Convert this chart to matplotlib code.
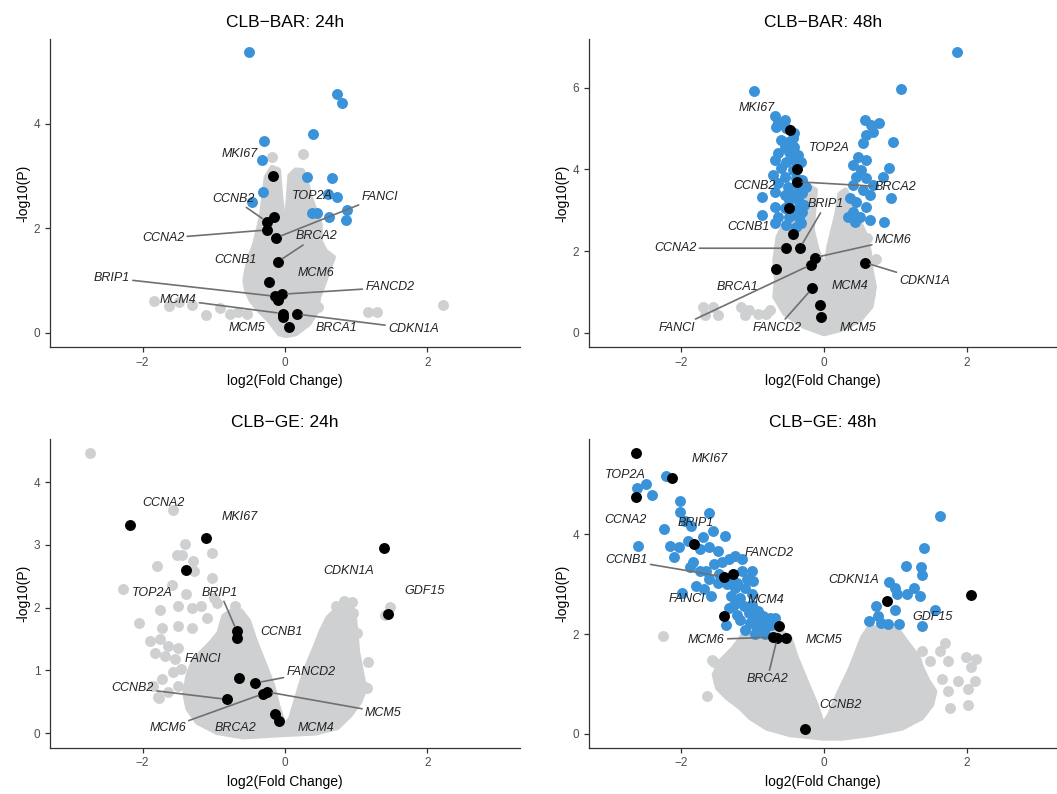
import matplotlib
matplotlib.use("Agg")
import matplotlib.pyplot as plt

plt.rcParams["font.family"] = ["Liberation Sans", "DejaVu Sans"]

GRAY = "#cfd0d1"
BLUE = "#3a92d9"
BLACK = "#000000"
SEG = "#707070"

# ------------------ CLB-BAR 24h ------------------
bar24_cloud_x = [0.012, -0.081, -0.219, -0.358, -0.473, -0.542, -0.565, -0.542, -0.496, -0.427, -0.381, -0.335, -0.302,
                 -0.265, -0.182, -0.090, -0.058, -0.025, 0.012, 0.026, 0.044, 0.067, 0.150, 0.243, 0.298, 0.358, 0.427,
                 0.496, 0.496, 0.566, 0.681, 0.612, 0.543, 0.473, 0.450, 0.335, 0.150]
bar24_cloud_y = [-0.055, -0.02, 0.23, 0.42, 0.61, 0.81, 1.00, 1.19, 1.45, 1.70, 1.96, 2.21, 2.59, 2.98, 3.17, 3.12, 2.59,
                 2.21, 1.76, 2.21, 2.59, 3.01, 3.12, 3.11, 2.91, 2.59, 2.34, 2.08, 1.76, 1.57, 1.45, 1.19, 0.93, 0.68,
                 0.42, 0.17, -0.02]
bar24_gray_x = [-0.187, 0.248, -1.836, -1.636, -1.495, -1.308, -1.112, -0.911, -0.771, -0.654, -0.537, 0.467, 1.168,
                1.285, 2.220, -0.514, 0.514, 0.397]
bar24_gray_y = [3.37, 3.42, 0.61, 0.51, 0.59, 0.53, 0.35, 0.47, 0.37, 0.40, 0.37, 0.49, 0.40, 0.40, 0.53, 1.07, 1.52, 0.82]
bar24_blue_x = [-0.50, 0.724, 0.794, 0.388, -0.294, -0.322, 0.313, 0.654, -0.313, 0.607, 0.724, -0.467, 0.874, 0.374,
                0.444, 0.621, 0.855]
bar24_blue_y = [5.37, 4.58, 4.41, 3.80, 3.67, 3.31, 2.99, 2.97, 2.70, 2.66, 2.61, 2.51, 2.36, 2.30, 2.30, 2.22, 2.16]
bar24_genes = ["MKI67", "TOP2A", "CCNB2", "CCNA2", "FANCI", "BRCA2", "CCNB1", "FANCD2", "BRIP1", "MCM6", "MCM4",
               "MCM5", "CDKN1A", "BRCA1"]
bar24_gene_x = [-0.173, -0.15, -0.257, -0.257, -0.126, -0.103, -0.22, -0.042, -0.136, -0.093, -0.033, -0.023, 0.164, 0.051]
bar24_gene_y = [3.01, 2.21, 2.13, 1.97, 1.82, 1.36, 0.98, 0.74, 0.70, 0.63, 0.37, 0.31, 0.36, 0.115]

# ------------------ CLB-BAR 48h ------------------
bar48_cloud_x = [0.0, -0.279, -0.553, -0.691, -0.668, -0.691, -0.645, -0.553, -0.416, -0.30, -0.22, -0.12, -0.164,
                 -0.095, 0.02, 0.065, 0.134, 0.18, 0.22, 0.30, 0.40, 0.50, 0.592, 0.638, 0.660, 0.706, 0.660, 0.500, 0.225]
bar48_cloud_y = [-0.03, 0.15, 0.47, 0.88, 1.29, 1.78, 2.35, 2.68, 2.93, 3.3, 3.6, 3.5, 2.52, 2.03, 1.54, 2.11, 2.60,
                 2.93, 3.40, 3.50, 3.20, 2.70, 2.35, 1.95, 1.54, 1.13, 0.64, 0.31, 0.07]
bar48_gray_x = [-1.692, -1.552, -1.669, -1.48, -1.156, -1.110, -1.057, -0.923, -0.807, -0.76, -0.597, -0.480, -0.410,
                -0.597, 0.606, 0.732, 0.592, 0.639, 0.522, 0.476]
bar48_gray_y = [0.64, 0.64, 0.43, 0.43, 0.64, 0.43, 0.56, 0.47, 0.47, 0.56, 0.80, 0.76, 1.05, 1.21, 2.31, 1.80, 1.37,
                0.96, 0.72, 0.47]
bar48_blue_x = [1.865, 1.075, -0.979,
                -0.691, -0.645, -0.553, -0.668, -0.531, -0.416, -0.599, -0.508, -0.439, -0.553, -0.416, -0.645, -0.485,
                -0.370, -0.691, -0.531, -0.416, -0.324, -0.599, -0.439, -0.714, -0.553, -0.393, -0.302, -0.645, -0.508,
                -0.370, -0.256, -0.691, -0.553, -0.416, -0.302, -0.874, -0.485, -0.347, -0.279, -0.691, -0.553, -0.416,
                -0.302, -0.874, -0.645, -0.485, -0.347, -0.691, -0.531, -0.393, -0.324,
                0.569, 0.660, 0.775, 0.683, 0.592, 0.546, 0.958, 0.477, 0.592, 0.409, 0.523, 0.454, 0.592, 0.683, 0.821,
                0.912, 0.409, 0.546, 0.638, 0.935, 0.363, 0.454, 0.592, 0.409, 0.340, 0.500, 0.638, 0.844, 0.431]
bar48_blue_y = [6.87, 5.97, 5.92,
                5.30, 5.17, 5.21, 5.05, 5.01, 4.89, 4.72, 4.68, 4.76, 4.56, 4.56, 4.40, 4.44, 4.36, 4.23, 4.19, 4.23,
                4.19, 4.03, 3.99, 3.87, 3.82, 3.78, 3.74, 3.66, 3.58, 3.58, 3.58, 3.46, 3.37, 3.37, 3.42, 3.33, 3.25,
                3.21, 3.13, 3.09, 3.05, 3.01, 2.97, 2.88, 2.84, 2.84, 2.80, 2.68, 2.64, 2.60, 2.68,
                5.21, 5.09, 5.15, 4.93, 4.84, 4.64, 4.68, 4.31, 4.23, 4.11, 3.99, 3.82, 3.78, 3.62, 3.82, 4.03, 3.62,
                3.50, 3.37, 3.29, 3.29, 3.21, 3.09, 2.97, 2.84, 2.84, 2.76, 2.72, 2.72]
bar48_genes = ["MKI67", "TOP2A", "BRCA2", "CCNB2", "CCNB1", "CCNA2", "BRIP1", "MCM6", "FANCI", "BRCA1", "CDKN1A",
               "FANCD2", "MCM4", "MCM5"]
bar48_gene_x = [-0.471, -0.373, -0.382, -0.49, -0.43, -0.527, -0.34, -0.13, -0.177, -0.667, 0.569, -0.163, -0.056, -0.047]
bar48_gene_y = [4.97, 4.00, 3.70, 3.05, 2.41, 2.07, 2.07, 1.84, 1.67, 1.55, 1.72, 1.09, 0.68, 0.39]

# ------------------ CLB-GE 24h ------------------
ge24_cloud_x = [0.011, -0.585, -0.952, -1.227, -1.365, -1.411, -1.365, -1.296, -1.182, -1.044, -0.929, -0.860, -0.723,
                -0.62, -0.510, -0.420, -0.329, -0.238, -0.171, -0.103, -0.044, -0.012, 0.079, 0.147, 0.215, 0.305, 0.419,
                0.509, 0.600, 0.690, 0.80, 0.93, 0.97, 1.00, 1.02, 1.08, 1.121, 1.053, 0.917, 0.736, 0.419]
ge24_cloud_y = [-0.02, -0.06, 0.01, 0.17, 0.39, 0.65, 0.91, 1.13, 1.28, 1.44, 1.60, 1.87, 1.97, 1.95, 1.79, 1.48, 1.22,
                0.96, 0.76, 0.45, 0.24, 0.11, 0.24, 0.50, 0.76, 1.06, 1.37, 1.63, 1.84, 1.94, 2.02, 2.05, 1.90, 1.60,
                1.30, 0.95, 0.70, 0.50, 0.29, 0.09, 0.0]
ge24_gray_x = [-2.734, -1.575, -1.411, -1.52, -1.44, -1.296, -1.021, -1.80, -1.273, -1.021, -2.28, -1.39, -1.58, -1.0,
               -1.50, -1.30, -1.18, -2.05, -1.73, -1.50, -1.30, -1.09, -0.54, -1.75, -1.893, -1.755, -1.640, -1.503,
               -1.824, -1.686, -1.549, -1.732, -1.778, -1.640, -1.503, -1.572, -1.457, -1.847, -1.776, -0.96, -0.70,
               1.168, 1.121, 1.15, 1.481, 1.40, 1.014, 0.715, 0.935, 0.958, 0.911, 0.83, 0.72]
ge24_gray_y = [4.46, 3.55, 3.01, 2.84, 2.84, 2.74, 2.87, 2.67, 2.58, 2.47, 2.29, 2.21, 2.36, 2.16, 2.02, 1.99, 2.02,
               1.76, 1.68, 1.71, 1.68, 1.84, 1.55, 1.97, 1.47, 1.50, 1.39, 1.36, 1.28, 1.23, 1.18, 0.86, 0.57, 0.65,
               0.76, 0.97, 1.02, 0.76, 0.56, 2.08, 2.02, 1.14, 0.74, 0.72, 2.01, 1.88, 1.60, 2.02, 2.09, 1.91, 1.82,
               2.10, 1.75]
ge24_blue_x = []
ge24_blue_y = []
ge24_genes = ["CCNA2", "MKI67", "TOP2A", "CDKN1A", "GDF15", "BRIP1", "CCNB1", "FANCI", "FANCD2", "CCNB2", "MCM6",
              "MCM5", "BRCA2", "MCM4"]
ge24_gene_x = [-2.182, -1.107, -1.393, 1.393, 1.449, -0.678, -0.678, -0.650, -0.416, -0.818, -0.304, -0.257, -0.140, -0.089]
ge24_gene_y = [3.32, 3.11, 2.60, 2.95, 1.90, 1.63, 1.52, 0.88, 0.80, 0.54, 0.63, 0.66, 0.31, 0.20]

# ------------------ CLB-GE 48h ------------------
ge48_cloud_x = [-0.016, -0.478, -0.801, -1.032, -1.170, -1.355, -1.493, -1.539, -1.447, -1.262, -1.124, -0.939, -0.755,
                -0.616, -0.478, -0.386, -0.247, -0.109, -0.016, 0.076, 0.214, 0.353, 0.445, 0.537, 0.630, 0.907, 1.045,
                1.183, 1.322, 1.368, 1.460, 1.553, 1.507, 1.368, 1.091, 0.630, 0.261]
ge48_cloud_y = [-0.09, -0.02, 0.11, 0.32, 0.52, 0.72, 0.92, 1.19, 1.46, 1.73, 2.00, 2.13, 2.06, 2.06, 1.93, 1.53, 1.05,
                0.58, 0.18, 0.38, 0.85, 1.26, 1.59, 1.93, 2.13, 2.13, 2.06, 1.79, 1.53, 1.32, 1.05, 0.85, 0.58, 0.32,
                0.11, -0.02, -0.09]
ge48_gray_x = [-2.255, -1.562, -1.632, -1.537, -1.377, 1.691, 1.737, 1.622, 1.991, 2.129, 2.060, 2.106, 1.876, 2.014,
               1.737, 1.760, 2.014, 1.645, 1.483, 1.368, 1.252]
ge48_gray_y = [1.96, 1.49, 0.75, 1.45, 1.38, 1.83, 1.46, 1.66, 1.54, 1.51, 1.34, 1.05, 1.05, 0.89, 0.85, 0.52, 0.58,
               1.09, 1.46, 1.66, 1.56]
ge48_blue_x = [-2.620, -2.497, -2.405, -2.209, -2.017, -2.017, -1.948, -1.606, -2.246, -1.857, -1.560, -1.386, -2.597,
               -2.154, -2.026, -2.099, -1.903, -1.697, -1.743, -1.606, -1.491, -1.834, -1.743, -1.880, -1.651, -1.537,
               -1.423, -1.331, -1.240, -1.149, -1.469, -1.309, -1.149, -1.011, -1.606, -1.491, -1.354, -1.217, -1.080,
               -0.989, -1.994, -1.788, -1.583, -1.674, -1.240, -1.103, -1.172, -1.011, -1.309, -1.263, -1.126, -1.011,
               -0.920, -1.331, -1.217, -1.057, -0.966, -0.852, -1.377, -1.172, -1.034, -0.920, -0.806, -0.760, -0.943,
               -0.829, -0.737, -1.103, -0.966, -0.829, -0.692,
               1.626, 1.397, 1.146, 1.356, 1.374, 0.908, 0.999, 1.260, 1.022, 1.159, 1.342, 0.725, 0.999, 0.748, 0.634,
               0.794, 0.899, 1.054, 1.548, 1.365]
ge48_blue_y = [4.94, 5.02, 4.80, 5.18, 4.67, 4.45, 4.28, 4.43, 4.10, 4.18, 4.06, 3.96, 3.77, 3.77, 3.74, 3.54, 3.87,
               3.94, 3.71, 3.74, 3.67, 3.44, 3.27, 3.34, 3.27, 3.40, 3.44, 3.50, 3.57, 3.50, 3.20, 3.13, 3.27, 3.27,
               3.10, 3.03, 3.00, 3.03, 3.10, 3.07, 2.83, 2.96, 2.76, 2.90, 2.93, 2.93, 2.73, 2.80, 2.76, 2.59, 2.56,
               2.59, 2.46, 2.53, 2.39, 2.43, 2.32, 2.36, 2.19, 2.29, 2.22, 2.22, 2.26, 2.32, 2.12, 2.12, 2.19, 2.09,
               2.01, 2.01, 2.32,
               4.38, 3.72, 3.37, 3.34, 3.18, 3.05, 2.93, 2.93, 2.80, 2.80, 2.76, 2.57, 2.49, 2.37, 2.26, 2.22, 2.21,
               2.21, 2.48, 2.16]
ge48_genes = ["TOP2A", "MKI67", "CCNA2", "BRIP1", "CCNB1", "FANCD2", "FANCI", "MCM4", "MCM6", "BRCA2", "MCM5",
              "CDKN1A", "GDF15", "CCNB2"]
ge48_gene_x = [-2.634, -2.126, -2.625, -1.818, -1.403, -1.273, -1.403, -0.629, -0.713, -0.653, -0.536, 0.881, 2.051, -0.261]
ge48_gene_y = [5.64, 5.13, 4.75, 3.80, 3.15, 3.20, 2.36, 2.16, 1.94, 1.93, 1.93, 2.66, 2.79, 0.10]

# label placement (text centre, draw segment or not)
bar24_labels = {
    "MKI67": (-0.64, 3.42, False), "TOP2A": (0.39, 2.62, False), "CCNB2": (-0.72, 2.57, True),
    "CCNA2": (-1.71, 1.81, True), "FANCI": (1.33, 2.61, True), "BRCA2": (0.44, 1.85, True),
    "CCNB1": (-0.69, 1.39, False), "FANCD2": (1.47, 0.87, True), "BRIP1": (-2.43, 1.05, True),
    "MCM6": (0.43, 1.15, False), "MCM4": (-1.50, 0.63, True), "MCM5": (-0.54, 0.10, False),
    "CDKN1A": (1.80, 0.08, True), "BRCA1": (0.72, 0.10, False),
}
bar48_labels = {
    "MKI67": (-0.946, 5.50, False), "TOP2A": (0.079, 4.53, False), "BRCA2": (1.002, 3.56, True),
    "CCNB2": (-0.979, 3.59, False), "CCNB1": (-1.063, 2.58, False), "CCNA2": (-2.079, 2.07, True),
    "BRIP1": (0.023, 3.15, True), "MCM6": (0.965, 2.27, True), "FANCI": (-2.06, 0.12, True),
    "BRCA1": (-1.217, 1.11, False), "CDKN1A": (1.408, 1.27, True), "FANCD2": (-0.653, 0.12, True),
    "MCM4": (0.368, 1.14, False), "MCM5": (0.476, 0.12, False),
}
ge24_labels = {
    "CCNA2": (-1.706, 3.67, False), "MKI67": (-0.631, 3.45, False), "TOP2A": (-1.869, 2.24, False),
    "CDKN1A": (0.888, 2.58, False), "GDF15": (1.953, 2.26, False), "BRIP1": (-0.911, 2.24, True),
    "CCNB1": (-0.056, 1.61, False), "FANCI": (-1.159, 1.18, False), "FANCD2": (0.364, 0.97, True),
    "CCNB2": (-2.136, 0.72, True), "MCM6": (-1.650, 0.08, True), "MCM5": (1.379, 0.33, True),
    "BRCA2": (-0.692, 0.08, False), "MCM4": (0.435, 0.08, False),
}
ge48_labels = {
    "TOP2A": (-2.788, 5.19, False), "MKI67": (-1.599, 5.51, False), "CCNA2": (-2.779, 4.30, False),
    "BRIP1": (-1.800, 4.24, False), "CCNB1": (-2.765, 3.48, True), "FANCD2": (-0.774, 3.63, False),
    "FANCI": (-1.925, 2.70, False), "MCM4": (-0.807, 2.69, False), "MCM6": (-1.646, 1.89, True),
    "BRCA2": (-0.793, 1.10, True), "MCM5": (0.0, 1.89, False), "CDKN1A": (0.415, 3.09, False),
    "GDF15": (1.524, 2.34, False), "CCNB2": (0.228, 0.57, False),
}

DOT = 62


def volcano(ax, title, cloud_x, cloud_y, gray_x, gray_y, blue_x, blue_y, genes, gene_x, gene_y, labels, xlim, ylim, yticks):
    # dense cloud of non-significant genes, then single points on top
    ax.fill(cloud_x, cloud_y, facecolor=GRAY, edgecolor=GRAY, lw=3.5, joinstyle="round", zorder=1)
    ax.scatter(gray_x, gray_y, s=DOT, color=GRAY, linewidths=0, zorder=2)
    if blue_x:
        ax.scatter(blue_x, blue_y, s=DOT, color=BLUE, linewidths=0, zorder=3)
    ax.scatter(gene_x, gene_y, s=DOT, color=BLACK, linewidths=0, zorder=4)
    for g, gx, gy in zip(genes, gene_x, gene_y):
        lx, ly, seg = labels[g]
        if seg:
            ax.annotate(g, xy=(gx, gy), xytext=(lx, ly), ha="center", va="center",
                        fontsize=9, fontstyle="italic", color="#222222", zorder=6,
                        arrowprops=dict(arrowstyle="-", color=SEG, lw=1.2, shrinkA=0, shrinkB=4))
        else:
            ax.text(lx, ly, g, ha="center", va="center", fontsize=9, fontstyle="italic",
                    color="#222222", zorder=6)
    ax.set_xlim(*xlim)
    ax.set_ylim(*ylim)
    ax.set_xticks([-2, 0, 2])
    ax.set_yticks(yticks)
    ax.set_title(title, fontsize=12.5, pad=9)
    ax.set_xlabel("log2(Fold Change)", fontsize=10)
    ax.set_ylabel("-log10(P)", fontsize=10, labelpad=2)
    for side in ["top", "right"]:
        ax.spines[side].set_visible(False)
    for side in ["left", "bottom"]:
        ax.spines[side].set_color("#333333")
        ax.spines[side].set_linewidth(0.9)
    ax.tick_params(labelsize=8.5, labelcolor="#4d4d4d", color="#333333", length=3.5, width=0.9)


fig = plt.figure(figsize=(10.57, 7.94), dpi=100)
ax1 = fig.add_axes([0.0473, 0.5630, 0.4447, 0.3875])
ax2 = fig.add_axes([0.5572, 0.5630, 0.4428, 0.3875])
ax3 = fig.add_axes([0.0473, 0.0583, 0.4447, 0.3884])
ax4 = fig.add_axes([0.5572, 0.0583, 0.4428, 0.3884])

volcano(ax1, "CLB\u2212BAR: 24h", bar24_cloud_x, bar24_cloud_y, bar24_gray_x, bar24_gray_y, bar24_blue_x,
        bar24_blue_y, bar24_genes, bar24_gene_x, bar24_gene_y, bar24_labels, (-3.30, 3.30), (-0.27, 5.62), [0, 2, 4])
volcano(ax2, "CLB\u2212BAR: 48h", bar48_cloud_x, bar48_cloud_y, bar48_gray_x, bar48_gray_y, bar48_blue_x,
        bar48_blue_y, bar48_genes, bar48_gene_x, bar48_gene_y, bar48_labels, (-3.29, 3.26), (-0.35, 7.19), [0, 2, 4, 6])
volcano(ax3, "CLB\u2212GE: 24h", ge24_cloud_x, ge24_cloud_y, ge24_gray_x, ge24_gray_y, ge24_blue_x,
        ge24_blue_y, ge24_genes, ge24_gene_x, ge24_gene_y, ge24_labels, (-3.30, 3.30), (-0.23, 4.68), [0, 1, 2, 3, 4])
volcano(ax4, "CLB\u2212GE: 48h", ge48_cloud_x, ge48_cloud_y, ge48_gray_x, ge48_gray_y, ge48_blue_x,
        ge48_blue_y, ge48_genes, ge48_gene_x, ge48_gene_y, ge48_labels, (-3.29, 3.26), (-0.28, 5.91), [0, 2, 4])

fig.savefig("out.png", dpi=100)
